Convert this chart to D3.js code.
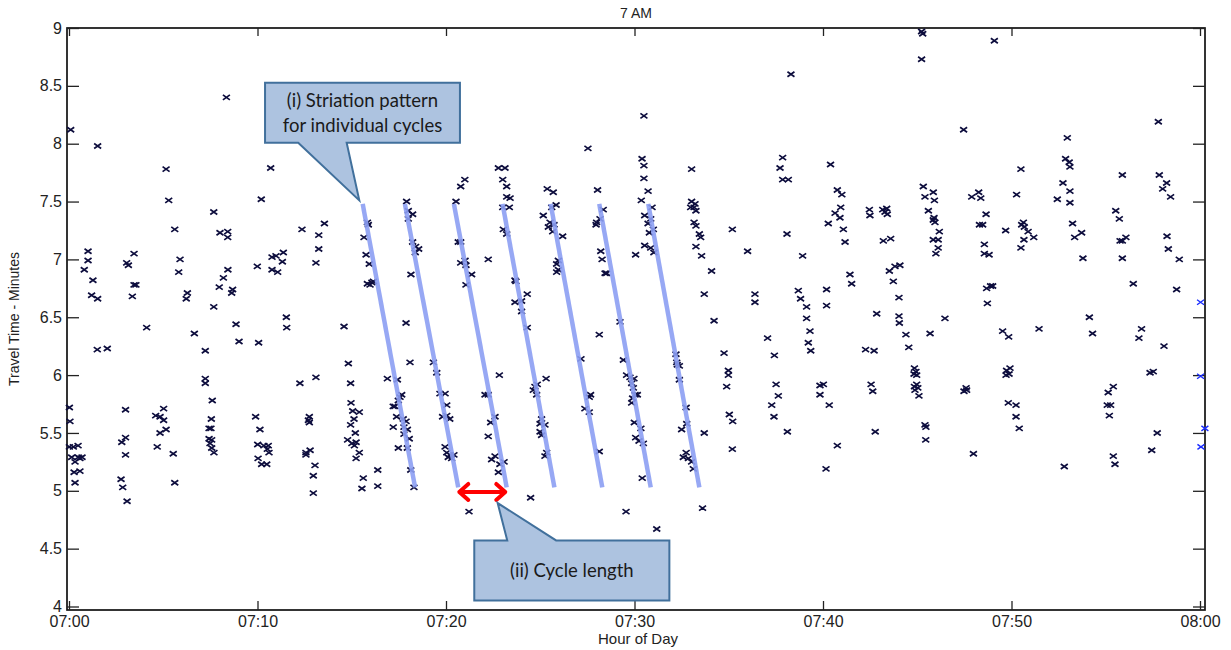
<!DOCTYPE html>
<html>
<head>
<meta charset="utf-8">
<script src="https://cdn.jsdelivr.net/npm/d3@7"></script>
<style>
  body { margin: 0; background: #fff; }
  svg { display: block; }
</style>
</head>
<body>
<div id="chart-area"></div>
<script>
// minutes after 07:00, travel time (minutes)
const observations = [
  [0.09,8.12],[1.52,7.98],[8.35,8.40],[5.15,7.78],[10.70,7.79],[5.29,7.51],[10.20,7.52],[7.68,7.41],[5.61,7.26],[8.01,7.23],
  [8.42,7.24],[8.42,7.19],[12.36,7.26],[13.55,7.31],[13.25,7.21],[13.25,7.09],[13.10,6.97],[1.01,7.07],[1.01,6.99],[0.81,6.91],
  [1.27,6.82],[1.20,6.69],[1.52,6.66],[3.06,6.97],[3.15,6.95],[3.45,7.05],[3.45,6.78],[3.55,6.78],[3.36,6.68],[5.89,7.00],
  [5.82,6.89],[6.28,6.71],[6.22,6.66],[8.43,6.91],[8.19,6.84],[7.97,6.76],[8.68,6.74],[8.63,6.71],[7.68,6.59],[11.53,6.50],
  [9.99,6.94],[10.77,7.02],[10.98,7.03],[11.37,7.06],[11.32,6.98],[10.77,6.91],[11.07,6.89],[15.83,7.32],[15.88,7.30],[15.65,7.19],
  [15.76,7.04],[15.93,6.96],[15.83,6.79],[15.97,6.78],[16.15,6.81],[16.07,6.80],[17.91,7.50],[18.00,7.42],[18.23,7.39],[18.00,7.35],
  [18.23,7.15],[18.39,7.11],[18.55,7.09],[18.37,7.06],[18.14,6.87],
  [4.12,6.41],[1.50,6.22],[2.03,6.23],[6.65,6.36],[8.86,6.44],[9.02,6.29],[10.06,6.28],[11.55,6.41],[7.23,6.21],[14.59,6.42],
  [17.88,6.45],[14.82,6.10],[18.09,6.11],[14.94,5.93],[12.25,5.93],[13.10,5.98],[7.23,5.97],[7.23,5.93],[7.60,5.78],[16.89,5.97],
  [17.42,5.96],[19.33,6.11],[19.51,6.02],[0.02,5.72],[0.05,5.60],[3.00,5.70],[4.60,5.65],[4.83,5.64],[5.02,5.71],[5.02,5.61],
  [4.83,5.50],[5.15,5.53],[4.68,5.38],[5.53,5.32],[5.61,5.07],[2.80,5.42],[3.00,5.46],[3.00,5.31],[2.76,5.10],[2.85,5.03],
  [3.08,4.91],[0.02,5.38],[0.23,5.38],[0.48,5.39],[0.14,5.29],[0.32,5.25],[0.58,5.28],[0.69,5.29],[0.49,5.29],[0.27,5.16],
  [0.58,5.17],[0.32,5.07],[7.55,5.62],[7.43,5.54],[7.53,5.54],[7.43,5.45],[7.57,5.44],[7.48,5.41],[7.57,5.37],[7.69,5.33],
  [9.90,5.64],[10.13,5.53],[10.01,5.40],[10.34,5.39],[10.57,5.39],[10.52,5.36],[10.61,5.33],[10.03,5.28],[10.22,5.23],[10.49,5.23],
  [12.75,5.64],[12.70,5.61],[12.75,5.59],[12.57,5.33],[12.79,5.35],[12.57,5.31],[13.05,5.22],[12.96,5.13],[12.96,4.98],
  [14.96,5.76],[15.05,5.69],[15.40,5.68],[15.12,5.62],[14.94,5.57],[15.19,5.50],[14.78,5.44],[15.01,5.41],[15.23,5.42],[15.14,5.39],
  [15.40,5.33],[15.23,5.28],[15.61,5.11],[15.54,5.02],[16.38,5.18],[16.38,5.04],
  [17.20,5.73],[17.29,5.73],[17.56,5.81],[17.65,5.83],[17.47,5.78],[17.38,5.64],[17.20,5.55],[17.73,5.62],[17.88,5.60],[17.77,5.55],
  [17.95,5.53],[17.77,5.49],[18.05,5.45],[17.95,5.37],[17.47,5.37],[18.13,5.18],[18.30,5.03],
  [19.68,5.84],[19.95,5.84],[20.04,5.74],[19.82,5.64],[20.04,5.65],[19.95,5.38],[20.04,5.33],[20.12,5.29],
  [20.20,5.62],[20.21,5.31],[20.42,5.31],[20.30,5.28],[22.83,6.00],[22.07,5.83],[22.24,5.83],[22.60,5.64],[22.37,5.59],[22.24,5.47],
  [22.60,5.30],[22.42,5.27],[22.86,5.23],[23.08,5.25],[22.78,5.16],[21.22,4.82],[24.49,4.94],[24.31,6.41],
  [25.31,5.97],[24.84,5.92],[24.72,5.90],[24.63,5.87],[24.81,5.83],[25.07,5.62],[24.99,5.58],[25.25,5.57],[24.99,5.51],[25.07,5.48],
  [25.34,5.33],[25.25,5.30],[28.13,6.35],[27.16,6.14],[27.67,5.83],[27.60,5.81],[27.37,5.71],[27.60,5.68],[28.13,5.34],
  [29.23,6.46],[29.41,6.13],[29.58,6.00],[29.76,5.98],[29.97,5.97],[29.85,5.93],[29.94,5.89],[30.03,5.83],[29.90,5.80],[30.15,5.83],
  [29.85,5.76],[29.99,5.59],[30.34,5.54],[30.06,5.46],[30.24,5.43],[30.47,5.41],[30.41,5.11],[29.55,4.82],[31.18,4.67],
  [32.20,6.18],[32.27,6.09],[32.38,6.08],[32.24,6.11],[32.38,5.96],[32.74,5.72],[32.77,5.58],[32.50,5.53],[32.74,5.33],[32.59,5.29],
  [32.86,5.28],[33.03,5.25],[33.12,5.19],[33.61,4.85],[33.70,5.50],
  [34.22,6.47],[34.75,6.19],[34.98,6.04],[34.98,6.00],[34.89,5.90],[35.03,5.66],[35.21,5.60],[35.19,5.36],
  [37.06,6.32],[37.42,6.17],[37.51,5.92],[37.63,5.82],[37.28,5.74],[37.40,5.64],[38.11,5.51],
  [39.13,6.49],[39.31,6.38],[39.22,6.28],[39.35,6.21],[39.84,5.91],[40.02,5.92],[39.84,5.83],[40.33,5.74],[40.16,5.19],
  [38.30,8.60],[30.50,8.24],[27.53,7.96],[30.40,7.87],[30.50,7.81],[30.50,7.70],[30.72,7.59],[30.36,7.51],[30.93,7.45],[30.54,7.38],
  [30.86,7.35],[30.72,7.31],[31.00,7.26],[30.79,7.23],[30.06,7.04],[30.54,7.12],[30.86,7.10],[31.03,7.06],
  [33.03,7.78],[33.03,7.50],[33.21,7.48],[32.98,7.45],[33.16,7.45],[33.26,7.42],[33.16,7.32],[33.26,7.29],[33.44,7.22],[33.51,7.19],
  [33.26,7.11],[33.56,7.03],[34.09,6.90],[35.19,7.26],[36.00,7.07],[33.70,6.70],[36.39,6.70],[36.39,6.63],
  [37.86,7.88],[37.72,7.79],[37.86,7.69],[38.16,7.69],[38.09,7.22],[38.92,7.03],[38.69,6.73],[38.81,6.66],[39.13,6.59],[40.19,6.74],
  [40.19,6.60],[40.40,7.82],[40.28,7.31],
  [20.53,7.50],[20.78,7.63],[21.00,7.69],[20.65,7.15],[20.78,7.15],[20.78,6.97],[21.01,6.99],[21.06,6.95],[21.36,6.87],[21.06,6.78],
  [22.24,7.00],[22.78,7.79],[23.13,7.79],[23.01,7.69],[23.22,7.63],[23.22,7.54],[23.40,7.53],[23.01,7.45],[23.36,7.45],[23.04,7.26],
  [23.22,7.22],[23.66,6.82],[23.71,6.81],[23.66,6.63],[24.01,6.64],[24.01,6.55],[24.31,6.70],
  [25.37,7.61],[25.69,7.58],[25.84,7.47],[25.61,7.45],[25.16,7.38],[25.52,7.32],[25.73,7.30],[25.43,7.28],[25.66,7.24],[26.19,7.20],
  [25.96,6.99],[25.87,6.96],[25.96,6.91],[25.87,6.89],
  [28.04,7.60],[28.34,7.43],[28.17,7.35],[27.99,7.32],[27.96,7.30],[28.21,7.07],[28.28,7.00],[28.44,6.88],[28.52,6.88],
  [45.23,8.97],[45.29,8.95],[45.23,8.73],[49.09,8.89],[47.46,8.12],[57.79,8.19],[52.96,8.05],[50.50,7.78],[52.87,7.87],[53.06,7.84],
  [53.10,7.80],[55.88,7.73],[57.84,7.73],[58.23,7.66],[58.02,7.61],[58.44,7.54],[52.73,7.66],[53.10,7.59],[52.43,7.52],[53.10,7.49],
  [50.27,7.56],[45.32,7.63],[45.41,7.54],[45.85,7.58],[45.91,7.51],[45.59,7.42],[45.89,7.36],[45.94,7.32],[45.85,7.34],[46.17,7.24],
  [45.85,7.17],[46.11,7.17],[46.11,7.10],[45.99,7.05],
  [47.89,7.54],[48.26,7.58],[48.37,7.53],[48.65,7.39],[48.30,7.30],[48.47,7.30],[48.56,7.13],[48.56,7.05],[48.81,7.04],[48.68,6.75],
  [48.89,6.77],[49.00,6.77],[48.72,6.62],
  [49.69,7.25],[50.63,7.32],[50.54,7.30],[50.68,7.28],[50.88,7.24],[51.18,7.19],[50.66,7.17],[50.50,7.10],
  [53.24,7.31],[53.72,7.23],[53.35,7.19],[53.79,7.01],
  [55.53,7.42],[55.72,7.35],[55.76,7.16],[55.88,7.16],[56.07,7.19],[55.88,7.01],[56.46,6.79],
  [58.25,7.20],[58.32,7.09],[58.90,7.00],[58.76,6.74],
  [40.64,7.40],[40.94,7.45],[40.90,7.36],[40.76,7.60],[41.00,7.56],[41.08,7.26],[41.17,7.15],[41.43,6.87],[41.52,6.79],
  [42.46,7.43],[42.49,7.38],[43.17,7.43],[43.38,7.44],[43.29,7.41],[43.41,7.39],[43.20,7.16],[43.59,7.18],[43.52,6.90],[43.82,6.94],
  [44.08,6.95],[43.73,6.81],[44.03,6.67],[42.85,6.53],[44.03,6.51],[46.47,6.49],[54.13,6.50],
  [44.05,6.45],[44.40,6.35],[45.68,6.36],[44.55,6.24],[42.26,6.22],[42.71,6.21],[44.85,6.06],[44.93,6.03],[44.97,6.00],[44.83,6.01],
  [44.97,5.92],[44.85,5.90],[45.03,5.89],[44.88,5.87],[45.09,5.82],[42.55,5.92],[42.64,5.86],[42.77,5.51],[40.76,5.39],[45.41,5.57],
  [45.46,5.55],[45.45,5.44],[47.59,5.89],[47.48,5.86],[47.62,5.87],[47.98,5.32],[49.53,6.38],[49.85,6.33],[51.46,6.40],[49.74,6.04],
  [49.92,6.06],[49.71,6.00],[49.87,6.01],[49.83,5.76],[50.24,5.74],[50.24,5.64],[50.41,5.54],[52.80,5.21],[54.30,6.36],[55.13,5.85],
  [55.40,5.90],[55.08,5.74],[55.26,5.74],[55.19,5.65],[55.40,5.30],[55.49,5.23],[56.90,6.40],[56.76,6.32],[58.09,6.25],[57.35,6.02],
  [57.52,6.03],[57.73,5.50],[57.44,5.35]
];

// the few points at the 08:00 edge, drawn in blue
const edgeObservations = [[60.03,6.63],[60.03,5.99],[60.26,5.54],[60.05,5.38]];

// striation guide lines: start (top) and end (bottom) minute
const striationStart = [15.58, 17.82, 20.42, 23.00, 25.55, 28.13, 30.73];
const striationEnd   = [18.36, 20.65, 23.22, 25.75, 28.29, 30.86, 33.44];
const striationTop = 7.48;
const striationBottom = 5.03;

// cycle-length arrow (minutes) and its height
const cycleArrow = [20.6, 23.25];
const cycleArrowLevel = 4.99;

const xTickValues = [0, 10, 20, 30, 40, 50, 60];
const xTickLabels = ['07:00', '07:10', '07:20', '07:30', '07:40', '07:50', '08:00'];
const yTickValues = [4, 4.5, 5, 5.5, 6, 6.5, 7, 7.5, 8, 8.5, 9];
const yTickLabels = ['4', '4.5', '5', '5.5', '6', '6.5', '7', '7.5', '8', '8.5', '9'];

// callouts: box [x0,x1] minutes, [yTop,yBottom] minutes of travel, pointer base and tip
const callouts = [
  { lines: ['(i) Striation pattern', 'for individual cycles'], box: [10.40, 20.74, 8.527, 8.008],
    base: [12.16, 14.73], tip: [15.40, 7.51], side: 'bottom' },
  { lines: ['(ii) Cycle length'], box: [21.50, 31.85, 4.571, 4.052],
    base: [23.25, 25.84], tip: [22.74, 4.894], side: 'top' }
];

const W = 1231, H = 650;
const frame = { left: 67, right: 1205, top: 28, bottom: 610 };

const svg = d3.select('#chart-area')
  .append('svg')
  .attr('width', W)
  .attr('height', H)
  .style('font-family', '"Liberation Sans", Arial, sans-serif');

const x = d3.scaleLinear()
  .domain([0, 60])
  .range([69, 1200]);

const y = d3.scaleLinear()
  .domain([4, 9])
  .range([606.5, 28]);

// frame
svg.append('rect')
  .attr('x', frame.left)
  .attr('y', frame.top)
  .attr('width', frame.right - frame.left)
  .attr('height', frame.bottom - frame.top)
  .attr('fill', 'none')
  .attr('stroke', '#111')
  .attr('stroke-width', 1.7);

const xAxis = d3.axisBottom(x)
  .tickValues(xTickValues)
  .tickFormat((d, i) => xTickLabels[i])
  .tickSizeInner(-9).tickSizeOuter(0).tickPadding(6);

const yAxis = d3.axisLeft(y)
  .tickValues(yTickValues)
  .tickFormat((d, i) => yTickLabels[i])
  .tickSizeInner(-12).tickSizeOuter(0).tickPadding(5);

const gx = svg.append('g')
  .attr('transform', 'translate(0,' + frame.bottom + ')')
  .call(xAxis);
const gy = svg.append('g')
  .attr('transform', 'translate(' + frame.left + ',0)')
  .call(yAxis);
const gxTop = svg.append('g')
  .attr('transform', 'translate(0,' + frame.top + ')')
  .call(d3.axisTop(x).tickValues(xTickValues).tickFormat('').tickSizeInner(-8).tickSizeOuter(0));
const gyRight = svg.append('g')
  .attr('transform', 'translate(' + frame.right + ',0)')
  .call(d3.axisRight(y).tickValues(yTickValues).tickFormat('').tickSizeInner(-12).tickSizeOuter(0));

[gx, gy, gxTop, gyRight].forEach((g) => {
  g.select('.domain').remove();
  g.selectAll('.tick line').attr('stroke', '#222').attr('stroke-width', 1.3);
  g.selectAll('.tick text')
    .attr('fill', '#222')
    .attr('font-size', '16px')
    .attr('font-family', '"Liberation Sans", Arial, sans-serif');
});

// titles
svg.append('text')
  .attr('x', 636).attr('y', 18)
  .attr('text-anchor', 'middle')
  .attr('font-size', '14px').attr('fill', '#222')
  .text('7 AM');

svg.append('text')
  .attr('x', 638).attr('y', 644)
  .attr('text-anchor', 'middle')
  .attr('font-size', '15px').attr('fill', '#222')
  .text('Hour of Day');

svg.append('text')
  .attr('transform', 'translate(19,' + ((frame.top + frame.bottom) / 2) + ') rotate(-90)')
  .attr('text-anchor', 'middle')
  .attr('font-size', '14px').attr('fill', '#222')
  .text('Travel Time - Minutes');

// markers
const cross = 'M-3.5,-2.5L3.5,2.5M-3.5,2.5L3.5,-2.5';

svg.append('g').selectAll('path')
  .data(observations)
  .enter().append('path')
  .attr('transform', (d) => 'translate(' + x(d[0]) + ',' + y(d[1]) + ')')
  .attr('d', cross)
  .attr('stroke', '#0d0d3d')
  .attr('stroke-width', 1.7)
  .attr('fill', 'none');

svg.append('g').selectAll('path')
  .data(edgeObservations)
  .enter().append('path')
  .attr('transform', (d) => 'translate(' + x(d[0]) + ',' + y(d[1]) + ')')
  .attr('d', cross)
  .attr('stroke', '#1a2cff')
  .attr('stroke-width', 1.4)
  .attr('fill', 'none');

// striation lines
svg.append('g').selectAll('line')
  .data(striationStart)
  .enter().append('line')
  .attr('x1', (d) => x(d))
  .attr('y1', y(striationTop))
  .attr('x2', (d, i) => x(striationEnd[i]))
  .attr('y2', y(striationBottom))
  .attr('stroke', '#8c9ff3')
  .attr('stroke-opacity', 0.9)
  .attr('stroke-width', 4.5);

// cycle length arrow
const ax0 = x(cycleArrow[0]), ax1 = x(cycleArrow[1]), ay = y(cycleArrowLevel);
svg.append('path')
  .attr('d', 'M' + (ax0 + 2) + ',' + ay + 'L' + (ax1 - 2) + ',' + ay +
    'M' + (ax0 + 11) + ',' + (ay - 8) + 'L' + (ax0 + 2) + ',' + ay + 'L' + (ax0 + 11) + ',' + (ay + 8) +
    'M' + (ax1 - 11) + ',' + (ay - 8) + 'L' + (ax1 - 2) + ',' + ay + 'L' + (ax1 - 11) + ',' + (ay + 8))
  .attr('fill', 'none')
  .attr('stroke', '#ff0000')
  .attr('stroke-width', 4)
  .attr('stroke-linecap', 'round')
  .attr('stroke-linejoin', 'round');

// callouts
callouts.forEach((c) => {
  const x0 = x(c.box[0]), x1 = x(c.box[1]), y0 = y(c.box[2]), y1 = y(c.box[3]);
  const b0 = x(c.base[0]), b1 = x(c.base[1]);
  const tx = x(c.tip[0]), ty = y(c.tip[1]);
  let pts;
  if (c.side === 'bottom') {
    pts = [[x0, y0], [x1, y0], [x1, y1], [b1, y1], [tx, ty], [b0, y1], [x0, y1]];
  } else {
    pts = [[x0, y0], [b0, y0], [tx, ty], [b1, y0], [x1, y0], [x1, y1], [x0, y1]];
  }
  svg.append('path')
    .attr('d', d3.line()(pts) + 'Z')
    .attr('fill', '#adc3e0')
    .attr('stroke', '#41709c')
    .attr('stroke-width', 2);

  const cy = (y0 + y1) / 2;
  const lh = 25;
  c.lines.forEach((line, i) => {
    svg.append('text')
      .attr('x', (x0 + x1) / 2)
      .attr('y', cy + (i - (c.lines.length - 1) / 2) * lh)
      .attr('dy', '0.35em')
      .attr('text-anchor', 'middle')
      .attr('font-family', 'Lato, "Open Sans", sans-serif')
      .attr('font-size', '18.5px')
      .attr('fill', '#1a1a1a')
      .text(line);
  });
});
</script>
</body>
</html>
